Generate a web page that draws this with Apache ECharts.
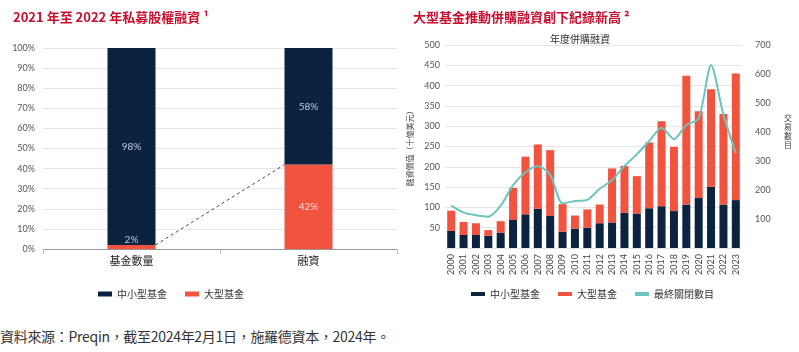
<!DOCTYPE html>
<html>
<head>
<meta charset="utf-8">
<script src="https://cdn.jsdelivr.net/npm/echarts@6/dist/echarts.min.js"></script>
<style>
  html, body { margin: 0; padding: 0; background: #fff; }
  #main { width: 799px; height: 318px; }
  #note { position: absolute; left: 0; top: 326px; font: 14px "Noto Sans CJK TC", sans-serif; color: #333; letter-spacing: -0.3px; }
</style>
</head>
<body>
<div id="main"></div>
<div id="note">資料來源：Preqin，截至2024年2月1日，施羅德資本，2024年。</div>
<script>
// 左圖：私募股權融資比例
var shareCats = ['基金數量', '融資'];
var shareSmall = [98, 58];
var shareLarge = [2, 42];

// 右圖：年度併購融資（十億美元）與最終關閉數目
var years = ['2000','2001','2002','2003','2004','2005','2006','2007','2008','2009','2010','2011',
  '2012','2013','2014','2015','2016','2017','2018','2019','2020','2021','2022','2023'];
var smallFunds = [42, 32, 32, 30, 38, 69, 83, 97, 79, 40, 48, 50, 61, 63, 87, 85, 98, 103, 91, 107, 123, 151, 107, 118];
var totalFunds = [92, 64, 61, 44, 66, 148, 225, 255, 241, 108, 80, 95, 107, 196, 202, 177, 260, 312, 249, 424, 337, 391, 330, 430];
var largeFunds = totalFunds.map(function (t, i) { return t - smallFunds[i]; });
var closedCount = [146, 122, 113, 108, 146, 217, 261, 283, 252, 154, 162, 166, 204, 234, 283, 323, 369, 415, 375, 424, 446, 631, 459, 327];

var NAVY = '#0c2340';
var ORANGE = '#f2533f';
var TEAL = '#6cc5bd';
var FONT = 'Noto Sans CJK TC';

var chart = echarts.init(document.getElementById('main'));

var option = {
  textStyle: { fontFamily: FONT },
  animation: false,
  title: [
    { text: '2021 年至 2022 年私募股權融資 ¹', left: 8, top: 6,
      textStyle: { color: '#c8102e', fontSize: 13, fontWeight: 'bold', fontFamily: FONT } },
    { text: '大型基金推動併購融資創下紀錄新高 ²', left: 408, top: 6,
      textStyle: { color: '#c8102e', fontSize: 13, fontWeight: 'bold', fontFamily: FONT } },
    { text: '年度併購融資', left: 575, top: 29, textAlign: 'center',
      textStyle: { color: '#333', fontSize: 10, fontWeight: 'normal', fontFamily: FONT } },
    // 右軸名稱（直排）
    { text: '交\n易\n數\n目', left: 779, top: 108,
      textStyle: { color: '#444', fontSize: 8, fontWeight: 'normal', lineHeight: 9, fontFamily: FONT } }
  ],
  legend: [
    { data: ['中小型基金', '大型基金'], left: 93, top: 284, itemWidth: 14, itemHeight: 5, itemGap: 18,
      icon: 'rect', textStyle: { fontSize: 10, color: '#333' } },
    { data: ['中小型基金', '大型基金', '最終關閉數目'], left: 466, top: 284, itemWidth: 14, itemHeight: 4,
      itemGap: 18, icon: 'rect', textStyle: { fontSize: 10, color: '#333' } }
  ],
  grid: [
    { left: 43, top: 48, width: 354, height: 201 },
    { left: 445, top: 45, width: 297, height: 203 }
  ],
  xAxis: [
    { type: 'category', gridIndex: 0, data: shareCats,
      axisLine: { lineStyle: { color: '#999' } },
      axisTick: { show: true, lineStyle: { color: '#bbb' } },
      axisLabel: { color: '#222', fontSize: 11, margin: 6 } },
    { type: 'category', gridIndex: 1, data: years,
      axisLine: { show: false }, axisTick: { show: false },
      axisLabel: { rotate: 90, color: '#444', fontSize: 9, margin: 6, interval: 0, fontFamily: 'Lato' } }
  ],
  yAxis: [
    { type: 'value', gridIndex: 0, min: 0, max: 100, interval: 10,
      axisLabel: { formatter: '{value}%', color: '#555', fontSize: 9, margin: 8, fontFamily: 'Lato' },
      splitLine: { lineStyle: { color: '#e6e6e6' } } },
    { type: 'value', gridIndex: 1, min: 0, max: 500, interval: 50,
      name: '融資價值（十億美元）', nameLocation: 'middle', nameGap: 31, nameRotate: 90,
      nameTextStyle: { fontSize: 8, color: '#444' },
      axisLabel: { color: '#555', fontSize: 9, margin: 5, fontFamily: 'Lato',
        formatter: function (v) { return v === 0 ? '' : v; } },
      splitLine: { lineStyle: { color: '#e6e6e6' } } },
    { type: 'value', gridIndex: 1, min: 0, max: 700, interval: 100, position: 'right',
      axisLabel: { color: '#555', fontSize: 9, margin: 13, fontFamily: 'Lato',
        formatter: function (v) { return v === 0 ? '' : v; } },
      splitLine: { show: false } }
  ],
  series: [
    { name: '大型基金', type: 'bar', stack: 'share', xAxisIndex: 0, yAxisIndex: 0, barWidth: 48,
      itemStyle: { color: ORANGE },
      data: shareLarge.map(function (v, i) {
        return { value: v, label: i === 0
          ? { show: true, position: 'top', distance: 0, color: '#b9c9e4' }
          : { show: true, position: 'inside', color: '#fde2dd' } };
      }),
      label: { formatter: '{c}%', fontSize: 10, fontFamily: 'Lato' } },
    { name: '中小型基金', type: 'bar', stack: 'share', xAxisIndex: 0, yAxisIndex: 0, barWidth: 48,
      itemStyle: { color: NAVY },
      data: shareSmall,
      label: { show: true, position: 'inside', formatter: '{c}%', color: '#b9c9e4', fontSize: 10, fontFamily: 'Lato' } },
    { type: 'custom', xAxisIndex: 0, yAxisIndex: 0, silent: true, z: 5,
      encode: { x: [0, 2], y: [1, 3] },
      data: [[0, shareLarge[0], 1, shareLarge[1]]],
      renderItem: function (params, api) {
        var a = api.coord([api.value(0), api.value(1)]);
        var b = api.coord([api.value(2), api.value(3)]);
        return { type: 'line',
          shape: { x1: a[0] + 24, y1: a[1], x2: b[0] - 24, y2: b[1] },
          style: { stroke: '#444', lineWidth: 1, lineDash: [3, 3] } };
      } },
    { name: '中小型基金', type: 'bar', stack: 'ma', xAxisIndex: 1, yAxisIndex: 1, barWidth: 8,
      itemStyle: { color: NAVY }, data: smallFunds },
    { name: '大型基金', type: 'bar', stack: 'ma', xAxisIndex: 1, yAxisIndex: 1, barWidth: 8,
      itemStyle: { color: ORANGE }, data: largeFunds },
    { name: '最終關閉數目', type: 'line', xAxisIndex: 1, yAxisIndex: 2, smooth: 0.25,
      symbol: 'none', lineStyle: { color: TEAL, width: 2 }, itemStyle: { color: TEAL },
      data: closedCount }
  ]
};

chart.setOption(option);
</script>
</body>
</html>
